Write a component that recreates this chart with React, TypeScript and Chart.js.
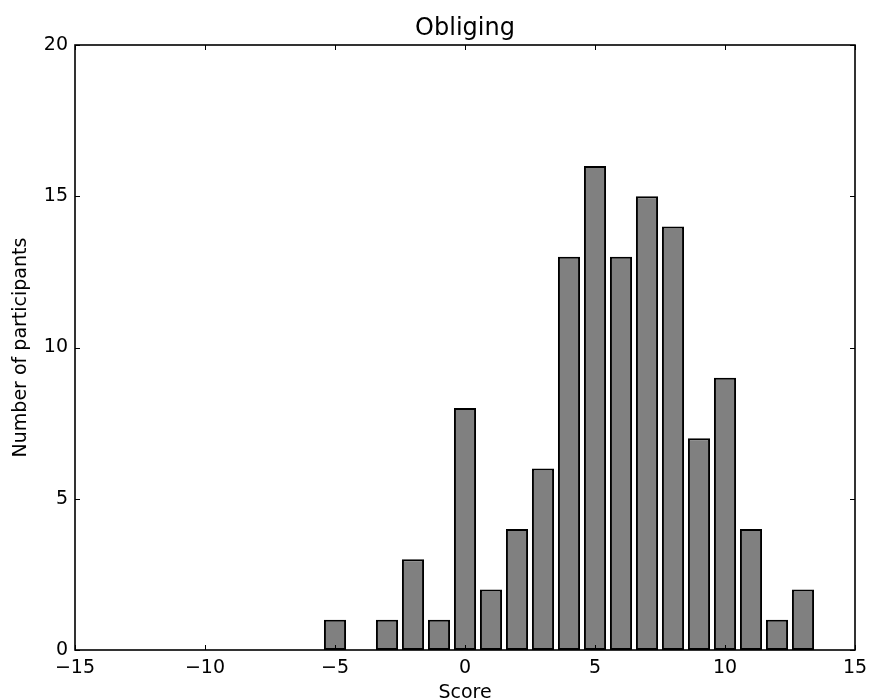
import React, { useEffect, useRef } from "react";
import { Chart, registerables } from "chart.js";

Chart.register(...registerables);

const scores = [-5, -4, -3, -2, -1, 0, 1, 2, 3, 4, 5, 6, 7, 8, 9, 10, 11, 12, 13];
const counts = [1, 0, 1, 3, 1, 8, 2, 4, 6, 13, 16, 13, 15, 14, 7, 9, 4, 1, 2];
const titleText = "Obliging";
const xLabel = "Score";
const yLabel = "Number of participants";

const FONT = "'DejaVu Sans', sans-serif";

const frameTicks = {
  id: "frameTicks",
  afterDatasetsDraw(chart: any) {
    const { ctx, chartArea } = chart;
    const { left, right, top, bottom } = chartArea;
    const xs = chart.scales.x;
    const ys = chart.scales.y;
    const len = 5;
    ctx.save();
    ctx.strokeStyle = "#000";
    ctx.lineWidth = 1;
    ctx.beginPath();
    xs.ticks.forEach((t: any) => {
      const px = Math.round(xs.getPixelForValue(t.value)) + 0.5;
      ctx.moveTo(px, bottom);
      ctx.lineTo(px, bottom - len);
      ctx.moveTo(px, top);
      ctx.lineTo(px, top + len);
    });
    ys.ticks.forEach((t: any) => {
      const py = Math.round(ys.getPixelForValue(t.value)) + 0.5;
      ctx.moveTo(left, py);
      ctx.lineTo(left + len, py);
      ctx.moveTo(right, py);
      ctx.lineTo(right - len, py);
    });
    ctx.stroke();
    ctx.lineWidth = 1.6;
    ctx.strokeRect(left, top, right - left, bottom - top);
    ctx.restore();
  },
};

export default function App() {
  const ref = useRef<HTMLCanvasElement>(null);
  useEffect(() => {
    if (!ref.current) return;
    const chart = new Chart(ref.current, {
      type: "bar",
      data: {
        datasets: [
          {
            data: scores.map((s, i) => ({ x: s, y: counts[i] })),
            backgroundColor: "#808080",
            borderColor: "#000000",
            borderWidth: 2,
            borderSkipped: false,
            barPercentage: 0.85,
            categoryPercentage: 1,
          },
        ],
      },
      options: {
        responsive: false,
        animation: false,
        layout: { padding: { left: 0, right: 15, top: 0, bottom: 0 } },
        plugins: {
          legend: { display: false },
          tooltip: { enabled: false },
          title: {
            display: true,
            fullSize: false,
            text: titleText,
            color: "#000",
            font: { family: FONT, size: 24, weight: "normal" },
            padding: { top: 14, bottom: 2.2 },
          },
        },
        scales: {
          x: {
            type: "linear",
            min: -15,
            max: 15,
            offset: false,
            grid: { display: false, drawTicks: false },
            border: { display: false },
            ticks: {
              stepSize: 5,
              color: "#000",
              padding: 7,
              maxRotation: 0,
              font: { family: FONT, size: 19 },
              callback: (v: any) => String(v).replace("-", "\u2212"),
            },
            title: {
              display: true,
              text: xLabel,
              color: "#000",
              font: { family: FONT, size: 19 },
              padding: { top: 0, bottom: -6 },
            },
            afterFit: (s: any) => {
              s.height = 48;
              s.paddingLeft = 0;
              s.paddingRight = 0;
            },
          },
          y: {
            min: 0,
            max: 20,
            grid: { display: false, drawTicks: false },
            border: { display: false },
            ticks: {
              stepSize: 5,
              color: "#000",
              padding: 7,
              font: { family: FONT, size: 19 },
            },
            title: {
              display: true,
              text: yLabel,
              color: "#000",
              font: { family: FONT, size: 19 },
              padding: { top: 10, bottom: 0 },
            },
            afterFit: (s: any) => {
              s.width = 75;
            },
          },
        },
      },
      plugins: [frameTicks],
    });
    return () => chart.destroy();
  }, []);
  return (
    <div style={{ position: "absolute", left: 0, top: 0, width: 870, height: 698, background: "#fff" }}>
      <canvas ref={ref} width={870} height={698} style={{ display: "block" }} />
    </div>
  );
}
